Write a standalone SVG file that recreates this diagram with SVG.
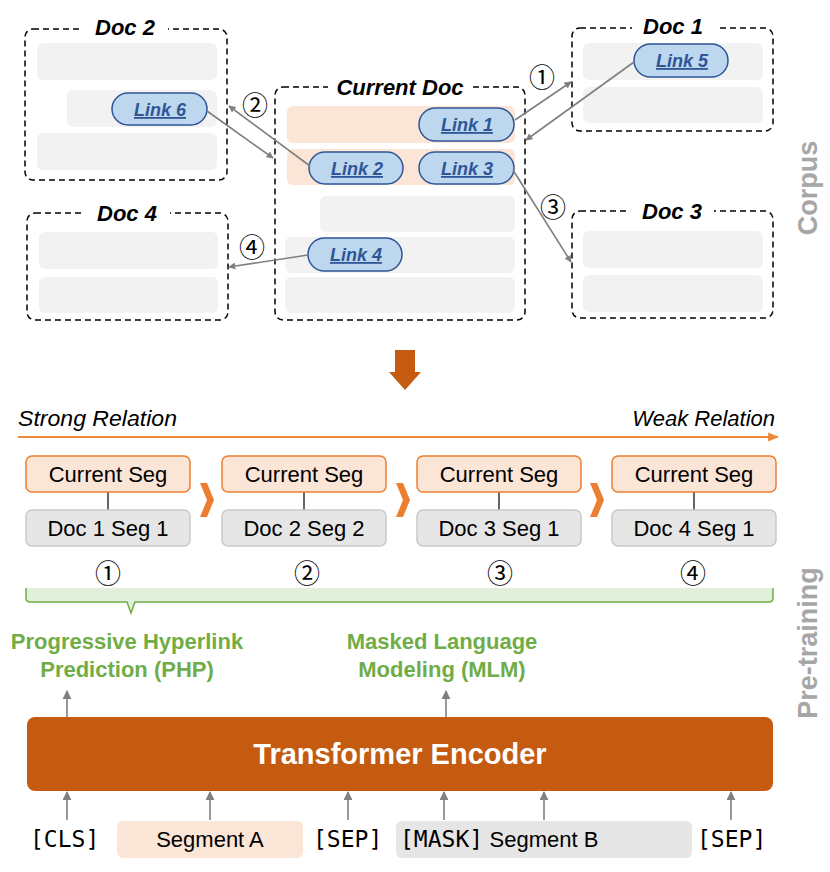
<svg xmlns="http://www.w3.org/2000/svg" width="830" height="872" viewBox="0 0 830 872">
<defs>
<marker id="ah" viewBox="0 0 10 10" refX="9" refY="5" markerWidth="7" markerHeight="7" orient="auto" markerUnits="userSpaceOnUse"><path d="M0,0 L10,5 L0,10 z" fill="#7f7f7f"/></marker>
<marker id="ah2" viewBox="0 0 10 10" refX="9" refY="5" markerWidth="9" markerHeight="9" orient="auto" markerUnits="userSpaceOnUse"><path d="M0,0 L10,5 L0,10 z" fill="#808080"/></marker>
<marker id="aho" viewBox="0 0 10 10" refX="9" refY="5" markerWidth="11" markerHeight="11" orient="auto" markerUnits="userSpaceOnUse"><path d="M0,1 L10,5 L0,9 z" fill="#f0883a"/></marker>
</defs>
<style>
.doc{fill:none;stroke:#000;stroke-width:1.5;stroke-dasharray:6 4}
.row{fill:#f2f2f2}
.orow{fill:#fbe5d6}
.title{font-family:"Liberation Sans",Arial,sans-serif;font-weight:bold;font-style:italic;font-size:22px;fill:#000;text-anchor:middle}
.pill{fill:#bdd7ee;stroke:#2f5597;stroke-width:1.5}
.lt{font-family:"Liberation Sans",Arial,sans-serif;font-weight:bold;font-style:italic;font-size:18px;fill:#2f5597;text-anchor:middle;text-decoration:underline}
.conn{stroke:#7f7f7f;stroke-width:1.6;fill:none;marker-end:url(#ah)}
.num{font-family:"Noto Sans CJK SC","DejaVu Sans",sans-serif;font-size:26px;fill:#000;text-anchor:middle}
.side{font-family:"Liberation Sans",Arial,sans-serif;font-weight:bold;font-size:27px;fill:#a6a6a6;text-anchor:middle}
.cs{fill:#fbe5d6;stroke:#ed7d31;stroke-width:1.5}
.ds{fill:#e7e6e6;stroke:#c9c9c9;stroke-width:1.5}
.st{font-family:"Liberation Sans",Arial,sans-serif;font-size:22px;fill:#000;text-anchor:middle}
.rel{font-family:"Liberation Sans",Arial,sans-serif;font-style:italic;font-size:22px;fill:#000}
.green{font-family:"Liberation Sans",Arial,sans-serif;font-weight:bold;font-size:22px;fill:#70ad47;text-anchor:middle}
.up{stroke:#808080;stroke-width:1.6;fill:none;marker-end:url(#ah2)}
.tok{font-family:"DejaVu Sans Mono","Liberation Mono",monospace;font-size:23px;fill:#000}
.chev{fill:#ed7d31}
</style>

<!-- Corpus -->
<g id="doc2">
<rect class="doc" x="25" y="29" width="202" height="151" rx="8"/>
<rect x="82" y="18" width="86" height="22" fill="#fff"/>
<text class="title" x="125" y="35">Doc 2</text>
<rect class="row" x="37" y="43" width="180" height="37" rx="6"/>
<rect class="row" x="67" y="90" width="150" height="37" rx="6"/>
<rect class="row" x="37" y="133" width="180" height="37" rx="6"/>
</g>
<g id="link6"><rect class="pill" x="112" y="93" width="95" height="32" rx="16"/><text class="lt" x="160" y="116">Link 6</text></g>

<g id="doc4">
<rect class="doc" x="27" y="213" width="201" height="107" rx="8"/>
<rect x="84" y="203" width="86" height="22" fill="#fff"/>
<text class="title" x="127" y="221">Doc 4</text>
<rect class="row" x="39" y="232" width="179" height="37" rx="6"/>
<rect class="row" x="39" y="277" width="179" height="36" rx="6"/>
</g>

<g id="currentdoc">
<rect class="doc" x="275" y="87" width="250" height="233" rx="8"/>
<rect x="328" y="76" width="145" height="22" fill="#fff"/>
<text class="title" x="400" y="95">Current Doc</text>
<rect class="orow" x="287" y="106" width="228" height="37" rx="6"/>
<rect class="orow" x="287" y="149" width="228" height="36" rx="6"/>
<rect class="row" x="320" y="196" width="195" height="36" rx="6"/>
<rect class="row" x="285" y="237" width="230" height="36" rx="6"/>
<rect class="row" x="285" y="277" width="230" height="36" rx="6"/>
</g>
<g id="link1"><rect class="pill" x="419" y="108" width="95" height="33" rx="16.5"/><text class="lt" x="467" y="131">Link 1</text></g>
<g id="link2"><rect class="pill" x="309" y="152" width="94" height="32" rx="16"/><text class="lt" x="357" y="175">Link 2</text></g>
<g id="link3"><rect class="pill" x="419" y="152" width="95" height="32" rx="16"/><text class="lt" x="467" y="175">Link 3</text></g>
<g id="link4"><rect class="pill" x="308" y="238" width="94" height="33" rx="16.5"/><text class="lt" x="356" y="261">Link 4</text></g>

<g id="doc1">
<rect class="doc" x="572" y="28" width="201" height="103" rx="8"/>
<rect x="632" y="15" width="84" height="22" fill="#fff"/>
<text class="title" x="673" y="34">Doc 1</text>
<rect class="row" x="583" y="43" width="180" height="37" rx="6"/>
<rect class="row" x="583" y="87" width="180" height="36" rx="6"/>
</g>
<g id="link5"><rect class="pill" x="634" y="44" width="94" height="33" rx="16.5"/><text class="lt" x="682" y="67">Link 5</text></g>

<g id="doc3">
<rect class="doc" x="572" y="211" width="201" height="107" rx="8"/>
<rect x="630" y="200" width="84" height="22" fill="#fff"/>
<text class="title" x="672" y="219">Doc 3</text>
<rect class="row" x="583" y="231" width="180" height="37" rx="6"/>
<rect class="row" x="583" y="275" width="180" height="37" rx="6"/>
</g>

<g id="connectors">
<line class="conn" x1="515" y1="120" x2="571" y2="82"/>
<line class="conn" x1="634" y1="62" x2="526" y2="140"/>
<line class="conn" x1="207" y1="111" x2="273" y2="158"/>
<line class="conn" x1="310" y1="166" x2="229" y2="106"/>
<line class="conn" x1="513" y1="170" x2="571" y2="262"/>
<line class="conn" x1="308" y1="255" x2="229" y2="267"/>
<text class="num" x="542" y="87">①</text>
<text class="num" x="255" y="115">②</text>
<text class="num" x="553" y="217">③</text>
<text class="num" x="252" y="257">④</text>
<line class="up" x1="67" y1="717" x2="67" y2="691"/>
<line class="up" x1="446" y1="717" x2="446" y2="691"/>
<line class="up" x1="67" y1="820" x2="67" y2="792"/>
<line class="up" x1="210" y1="820" x2="210" y2="792"/>
<line class="up" x1="348" y1="820" x2="348" y2="792"/>
<line class="up" x1="444" y1="820" x2="444" y2="792"/>
<line class="up" x1="544" y1="820" x2="544" y2="792"/>
<line class="up" x1="731" y1="820" x2="731" y2="792"/>
<line x1="18" y1="437" x2="778" y2="437" stroke="#f0883a" stroke-width="2" marker-end="url(#aho)"/>
</g>

<text class="side" transform="translate(817,188) rotate(-90)">Corpus</text>

<!-- big arrow -->
<g id="bigarrow"><polygon points="395,350 415,350 415,372 421,372 405,390 389,372 395,372" fill="#c55a11"/></g>

<text class="rel" x="18" y="426" textLength="159" lengthAdjust="spacingAndGlyphs">Strong Relation</text>
<text class="rel" x="775" y="426" text-anchor="end">Weak Relation</text>

<!-- segments -->
<g id="pair1">
<line x1="108" y1="492" x2="108" y2="510" stroke="#000" stroke-width="1.2"/>
<rect class="cs" x="26" y="456" width="164" height="36" rx="6"/><text class="st" x="108" y="482">Current Seg</text>
<rect class="ds" x="26" y="510" width="164" height="36" rx="6"/><text class="st" x="108" y="536">Doc 1 Seg 1</text>
</g>
<g id="pair2">
<line x1="304" y1="492" x2="304" y2="510" stroke="#000" stroke-width="1.2"/>
<rect class="cs" x="222" y="456" width="164" height="36" rx="6"/><text class="st" x="304" y="482">Current Seg</text>
<rect class="ds" x="222" y="510" width="164" height="36" rx="6"/><text class="st" x="304" y="536">Doc 2 Seg 2</text>
</g>
<g id="pair3">
<line x1="499" y1="492" x2="499" y2="510" stroke="#000" stroke-width="1.2"/>
<rect class="cs" x="417" y="456" width="164" height="36" rx="6"/><text class="st" x="499" y="482">Current Seg</text>
<rect class="ds" x="417" y="510" width="164" height="36" rx="6"/><text class="st" x="499" y="536">Doc 3 Seg 1</text>
</g>
<g id="pair4">
<line x1="694" y1="492" x2="694" y2="510" stroke="#000" stroke-width="1.2"/>
<rect class="cs" x="612" y="456" width="164" height="36" rx="6"/><text class="st" x="694" y="482">Current Seg</text>
<rect class="ds" x="612" y="510" width="164" height="36" rx="6"/><text class="st" x="694" y="536">Doc 4 Seg 1</text>
</g>
<polygon class="chev" points="200,483 207,483 214,500 207,517 200,517 207,500"/>
<polygon class="chev" points="396,483 403,483 410,500 403,517 396,517 403,500"/>
<polygon class="chev" points="590,483 597,483 604,500 597,517 590,517 597,500"/>

<text class="num" x="108" y="583">①</text>
<text class="num" x="307" y="583">②</text>
<text class="num" x="500" y="583">③</text>
<text class="num" x="693" y="583">④</text>

<g id="bracket">
<path d="M26,588 V598 Q26,602 30,602 H127 L131,613 L135,602 H769 Q773,602 773,598 V588 Z" fill="#e2efda"/>
<path d="M26,588 V598 Q26,602 30,602 H127 L131,613 L135,602 H769 Q773,602 773,598 V588" fill="none" stroke="#70ad47" stroke-width="1.5"/>
</g>

<text class="green" x="127" y="649">Progressive Hyperlink</text>
<text class="green" x="127" y="677">Prediction (PHP)</text>
<text class="green" x="442" y="649">Masked Language</text>
<text class="green" x="442" y="677">Modeling (MLM)</text>

<text class="side" transform="translate(817,643) rotate(-90)">Pre-training</text>

<g id="encoder">
<rect x="27" y="717" width="746" height="74" rx="8" fill="#c55a11"/>
<text x="400" y="764" font-family="'Liberation Sans',Arial,sans-serif" font-weight="bold" font-size="29" fill="#fff" text-anchor="middle">Transformer Encoder</text>
</g>

<g id="tokens">
<text class="tok" x="30" y="847">[CLS]</text>
<rect x="117" y="821" width="186" height="37" rx="6" fill="#fbe5d6"/>
<text class="st" x="210" y="847">Segment A</text>
<text class="tok" x="313" y="847">[SEP]</text>
<rect x="396" y="821" width="296" height="37" rx="6" fill="#e7e6e6"/>
<text class="tok" x="400" y="847">[MASK]</text>
<text class="st" x="544" y="847">Segment B</text>
<text class="tok" x="697" y="847">[SEP]</text>
</g>
</svg>
